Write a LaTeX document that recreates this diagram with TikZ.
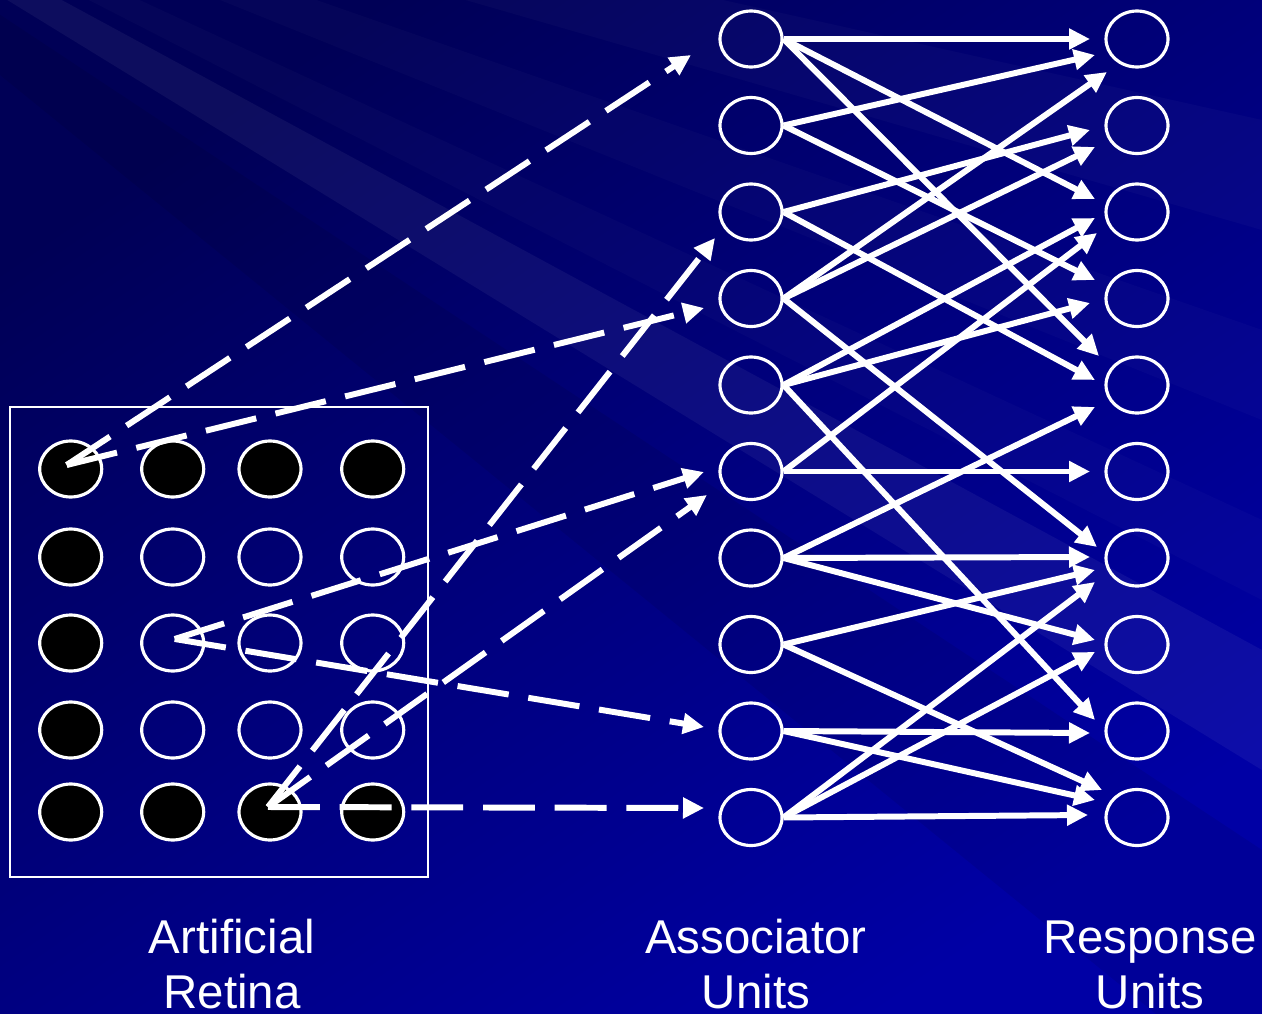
\documentclass[tikz,border=0pt]{standalone}
\usepackage{fontspec}
\setmainfont{Liberation Sans}
\usetikzlibrary{arrows.meta,shapes.geometric,calc}

\definecolor{bgdark}{RGB}{0,0,86}
\definecolor{bglight}{RGB}{0,0,165}

\begin{document}
\begin{tikzpicture}[x=0.02cm,y=-0.02cm,
  unit/.style={ellipse, draw=white, line width=1.8pt, minimum width=1.24cm,
               minimum height=1.12cm, inner sep=0pt},
  lit/.style={unit, fill=black},
  link/.style={white, line width=3.4pt, -{Triangle[length=0.42cm,width=0.4cm]}},
  feed/.style={link, dash pattern=on 29.5pt off 11.3pt},
  caption/.style={text=white, font=\fontsize{27}{31}\selectfont, align=center,
                  anchor=base, inner sep=0pt},
  ray/.style={white, opacity=#1}
]
\useasboundingbox (0,0) rectangle (1262,1014);

% background: dark-to-light blue with faint diagonal light rays
\shade[top color=bgdark, bottom color=bglight, shading angle=35] (0,0) rectangle (1262,1014);
\begin{scope}
  \clip (0,0) rectangle (1262,1014);
  \coordinate (focus) at (-400,-250);
  \fill[ray=0.025] (focus) -- (1262,120) -- (1262,230) -- cycle;
  \fill[ray=0.02]  (focus) -- (1262,330) -- (1262,420) -- cycle;
  \fill[ray=0.02]  (focus) -- (1262,520) -- (1262,600) -- cycle;
  \fill[ray=0.05]  (focus) -- (1262,650) -- (1262,770) -- cycle;
  \fill[black, opacity=0.08] (focus) -- (1262,850) -- (1262,1100) -- cycle;
\end{scope}

% artificial retina
\node[draw=white, line width=1.4pt, minimum width=8.36cm, minimum height=9.4cm,
      inner sep=0pt] (retina) at (219,642) {};
\node[lit]  (r11) at (70.7,469) {};
\node[lit]  (r12) at (172.7,469) {};
\node[lit]  (r13) at (270,469) {};
\node[lit]  (r14) at (372.7,469) {};
\node[lit]  (r21) at (70.7,557) {};
\node[unit] (r22) at (172.7,557) {};
\node[unit] (r23) at (270,557) {};
\node[unit] (r24) at (372.7,557) {};
\node[lit]  (r31) at (70.7,643) {};
\node[unit] (r32) at (172.7,643) {};
\node[unit] (r33) at (270,643) {};
\node[unit] (r34) at (372.7,643) {};
\node[lit]  (r41) at (70.7,730) {};
\node[unit] (r42) at (172.7,730) {};
\node[unit] (r43) at (270,730) {};
\node[unit] (r44) at (372.7,730) {};
\node[lit]  (r51) at (70.7,812) {};
\node[lit]  (r52) at (172.7,812) {};
\node[lit]  (r53) at (270,812) {};
\node[lit]  (r54) at (372.7,812) {};

% associator and response units
\foreach \i/\y in {1/39,2/125.5,3/212,4/298.5,5/385,6/471.5,7/558,8/644.5,9/731,10/817.5} {
  \node[unit] (a\i) at (751,\y) {};
  \node[unit] (p\i) at (1137,\y) {};
}

% retina to associator connections
\coordinate (s11) at ($(r11)+(-4,-4)$);
\coordinate (s32) at ($(r32)+(2,-4)$);
\coordinate (s53) at ($(r53)+(-2,-5)$);
\draw[feed] (s11) -- ($(a1)+(-60,16)$);
\draw[feed] (s11) -- ($(a4)+(-47,9.5)$);
\draw[feed] (s32) -- ($(a6)+(-47,0.5)$);
\draw[feed] (s32) -- ($(a9)+(-47,-4)$);
\draw[feed] (s53) -- ($(a3)+(-36,26)$);
\draw[feed] (s53) -- ($(a6)+(-44,23.5)$);
\draw[feed] (s53) -- ($(a10)+(-47,-9.5)$);

% associator to response connections
\foreach \s/\t/\dx/\dy in {
  1/1/-47/0, 1/3/-42/-13, 1/5/-38/-29,
  2/1/-42/16, 2/4/-42/-18.5,
  3/2/-47/4.5, 3/5/-42/-5,
  4/1/-30/33, 4/2/-42/21.5, 4/7/-40/-11,
  5/3/-42/6, 5/4/-47/4.5, 5/9/-42/-11,
  6/3/-40/21, 6/6/-47/0,
  7/5/-42/22, 7/7/-47/-1, 7/8/-42/-4.5,
  8/7/-42/12, 8/10/-35/-27.5,
  9/9/-47/2, 9/10/-42/-17.5,
  10/7/-42/24, 10/8/-42/7.5, 10/10/-49/-2.5}
  \draw[link] (a\s.east) -- ($(p\t)+(\dx,\dy)$);

% captions (anchored on the baseline of the second line)
\node[caption] (capRetina) at (232,1008) {Artificial\\Retina};
\node[caption] (capAssoc)  at (756,1008) {Associator\\Units};
\node[caption] (capResp)   at (1150,1008) {Response\\Units};
\end{tikzpicture}
\end{document}
